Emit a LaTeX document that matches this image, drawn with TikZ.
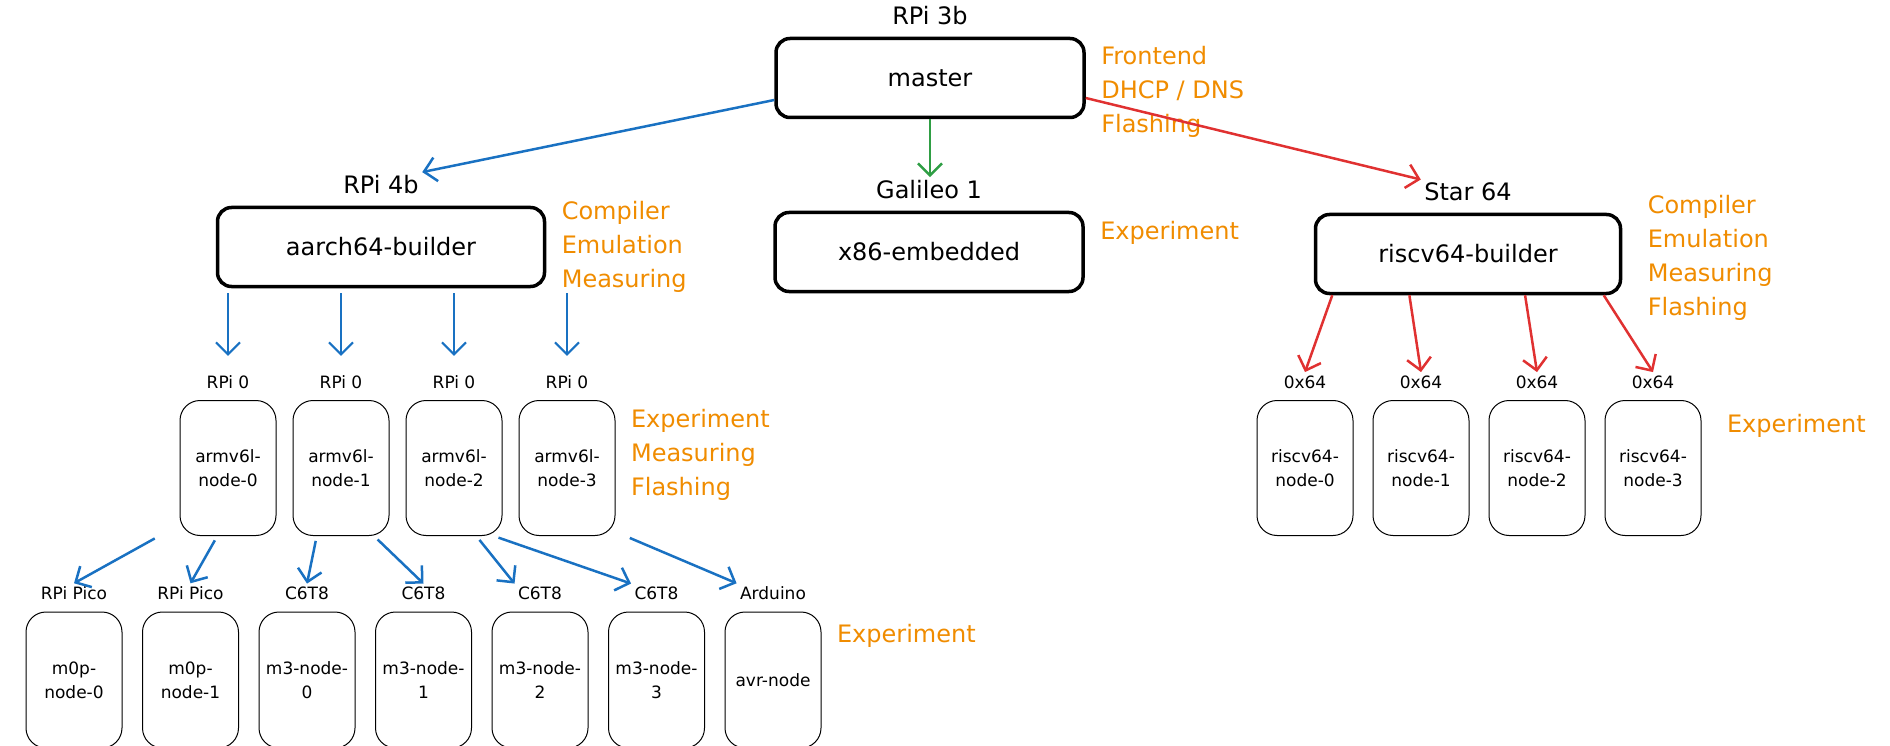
\documentclass[tikz,border=0pt]{standalone}
\usepackage{fontspec}
\setmainfont{DejaVu Sans}
\usepackage{tikz}
\usetikzlibrary{arrows.meta,positioning,calc}
\definecolor{xblue}{HTML}{1971C2}
\definecolor{xgreen}{HTML}{2F9E44}
\definecolor{xred}{HTML}{E03131}
\definecolor{xorange}{HTML}{F08C00}

\begin{document}
\begin{tikzpicture}[
  x=1pt,y=-1pt,
  every node/.style={font=\fontsize{24}{30}\selectfont},
  label distance=8pt,
  host/.style={draw,line width=3.5pt,rounded corners=14pt,minimum width=308pt,minimum height=79pt,align=center},
  board/.style={draw,line width=1pt,rounded corners=20pt,minimum width=96pt,minimum height=135pt,align=center,font=\fontsize{17}{24}\selectfont},
  tag/.style={font=\fontsize{17}{20}\selectfont},
  role/.style={text=xorange,align=left,font=\fontsize{24}{34}\selectfont},
  link/.style={line width=2.5pt,-{Straight Barb[length=12pt,width=24pt]}}]

\useasboundingbox (0,0) rectangle (1890,746);
\clip (0,0) rectangle (1890,746);

\node[host,label={[name=master-t]above:RPi 3b}] (master) at (930,78) {master};
\node[host,label={[name=galileo-t]above:Galileo 1}] (galileo) at (929,252) {x86-embedded};
\node[host,minimum width=327pt,label={[name=aarch-t]above:RPi 4b}] (aarch) at (381,247) {aarch64-builder};
\node[host,minimum width=305pt,label={[name=riscv-t]above:Star 64}] (riscv) at (1468,254) {riscv64-builder};

\node[role,right=12pt of master,yshift=-14pt] (master-r) {Frontend\\DHCP / DNS\\Flashing};
\node[role,right=12pt of galileo,yshift=19pt] (galileo-r) {Experiment};
\node[role,right=12pt of aarch] (aarch-r) {Compiler\\Emulation\\Measuring};
\node[role,right=22pt of riscv,yshift=-4pt] (riscv-r) {Compiler\\Emulation\\Measuring\\Flashing};

% armv6l row
\node[board,label={[tag,name=arm0-t]above:RPi 0}] (arm0) at (228,468) {armv6l-\\node-0};
\node[board,right=16pt of arm0,label={[tag,name=arm1-t]above:RPi 0}] (arm1) {armv6l-\\node-1};
\node[board,right=16pt of arm1,label={[tag,name=arm2-t]above:RPi 0}] (arm2) {armv6l-\\node-2};
\node[board,right=16pt of arm2,label={[tag,name=arm3-t]above:RPi 0}] (arm3) {armv6l-\\node-3};
\node[role,right=12pt of arm3,yshift=13pt] (arm-r) {Experiment\\Measuring\\Flashing};

% riscv64 row
\node[board,label={[tag,name=rv0-t]above:0x64}] (rv0) at (1305,468) {riscv64-\\node-0};
\node[board,right=19pt of rv0,label={[tag,name=rv1-t]above:0x64}] (rv1) {riscv64-\\node-1};
\node[board,right=19pt of rv1,label={[tag,name=rv2-t]above:0x64}] (rv2) {riscv64-\\node-2};
\node[board,right=19pt of rv2,label={[tag,name=rv3-t]above:0x64}] (rv3) {riscv64-\\node-3};
\node[role,right=22pt of rv3,yshift=42pt] (rv-r) {Experiment};

% microcontroller row
\node[board,minimum height=136pt,label={[tag,name=mzero0-t]above:RPi Pico}] (mzero0) at (74,680) {m0p-\\node-0};
\node[board,minimum height=136pt,right=19.5pt of mzero0,label={[tag,name=mzero1-t]above:RPi Pico}] (mzero1) {m0p-\\node-1};
\node[board,minimum height=136pt,right=19.5pt of mzero1,label={[tag,name=mthree0-t]above:C6T8}] (mthree0) {m3-node-\\0};
\node[board,minimum height=136pt,right=19.5pt of mthree0,label={[tag,name=mthree1-t]above:C6T8}] (mthree1) {m3-node-\\1};
\node[board,minimum height=136pt,right=19.5pt of mthree1,label={[tag,name=mthree2-t]above:C6T8}] (mthree2) {m3-node-\\2};
\node[board,minimum height=136pt,right=19.5pt of mthree2,label={[tag,name=mthree3-t]above:C6T8}] (mthree3) {m3-node-\\3};
\node[board,minimum height=136pt,right=19.5pt of mthree3,label={[tag,name=avr-t]above:Arduino}] (avr) {avr-node};
\node[role,right=12pt of avr,yshift=44pt] (mcu-r) {Experiment};

\draw[link,xblue] ([yshift=-22pt]master.west) -- (aarch-t.north east);
\draw[link,xgreen] (master.south) -- (master.south |- galileo-t.north);
\draw[link,xred] ([yshift=-20pt]master.east) -- (riscv-t.north west);

\draw[link,xblue,line width=2pt,shorten <=5pt,shorten >=16pt] (arm0-t.north |- aarch.south) -- (arm0-t.north);
\draw[link,xblue,line width=2pt,shorten <=5pt,shorten >=16pt] (arm1-t.north |- aarch.south) -- (arm1-t.north);
\draw[link,xblue,line width=2pt,shorten <=5pt,shorten >=16pt] (arm2-t.north |- aarch.south) -- (arm2-t.north);
\draw[link,xblue,line width=2pt,shorten <=5pt,shorten >=16pt] (arm3-t.north |- aarch.south) -- (arm3-t.north);

\draw[link,xred] ($(riscv.south west)!0.06!(riscv.south east)$) -- (rv0-t.north);
\draw[link,xred] ($(riscv.south west)!0.31!(riscv.south east)$) -- (rv1-t.north);
\draw[link,xred] ($(riscv.south west)!0.685!(riscv.south east)$) -- (rv2-t.north);
\draw[link,xred] ($(riscv.south west)!0.94!(riscv.south east)$) -- (rv3-t.north);

\draw[link,xblue,shorten <=5pt] ($(arm0.south west)!-0.21!(arm0.south east)$) -- (mzero0-t.north);
\draw[link,xblue,shorten <=5pt] ($(arm0.south west)!0.39!(arm0.south east)$) -- (mzero1-t.north);
\draw[link,xblue,shorten <=5pt] ($(arm1.south west)!0.25!(arm1.south east)$) -- (mthree0-t.north);
\draw[link,xblue,shorten <=5pt] ($(arm1.south west)!0.84!(arm1.south east)$) -- (mthree1-t.north);
\draw[link,xblue,shorten <=5pt] ($(arm2.south west)!0.73!(arm2.south east)$) -- (mthree2-t.north west);
\draw[link,xblue,shorten <=5pt] ($(arm2.south west)!0.91!(arm2.south east)$) -- (mthree3-t.north west);
\draw[link,xblue,shorten <=5pt] ($(arm3.south west)!1.1!(arm3.south east)$) -- (avr-t.north west);
\end{tikzpicture}
\end{document}
